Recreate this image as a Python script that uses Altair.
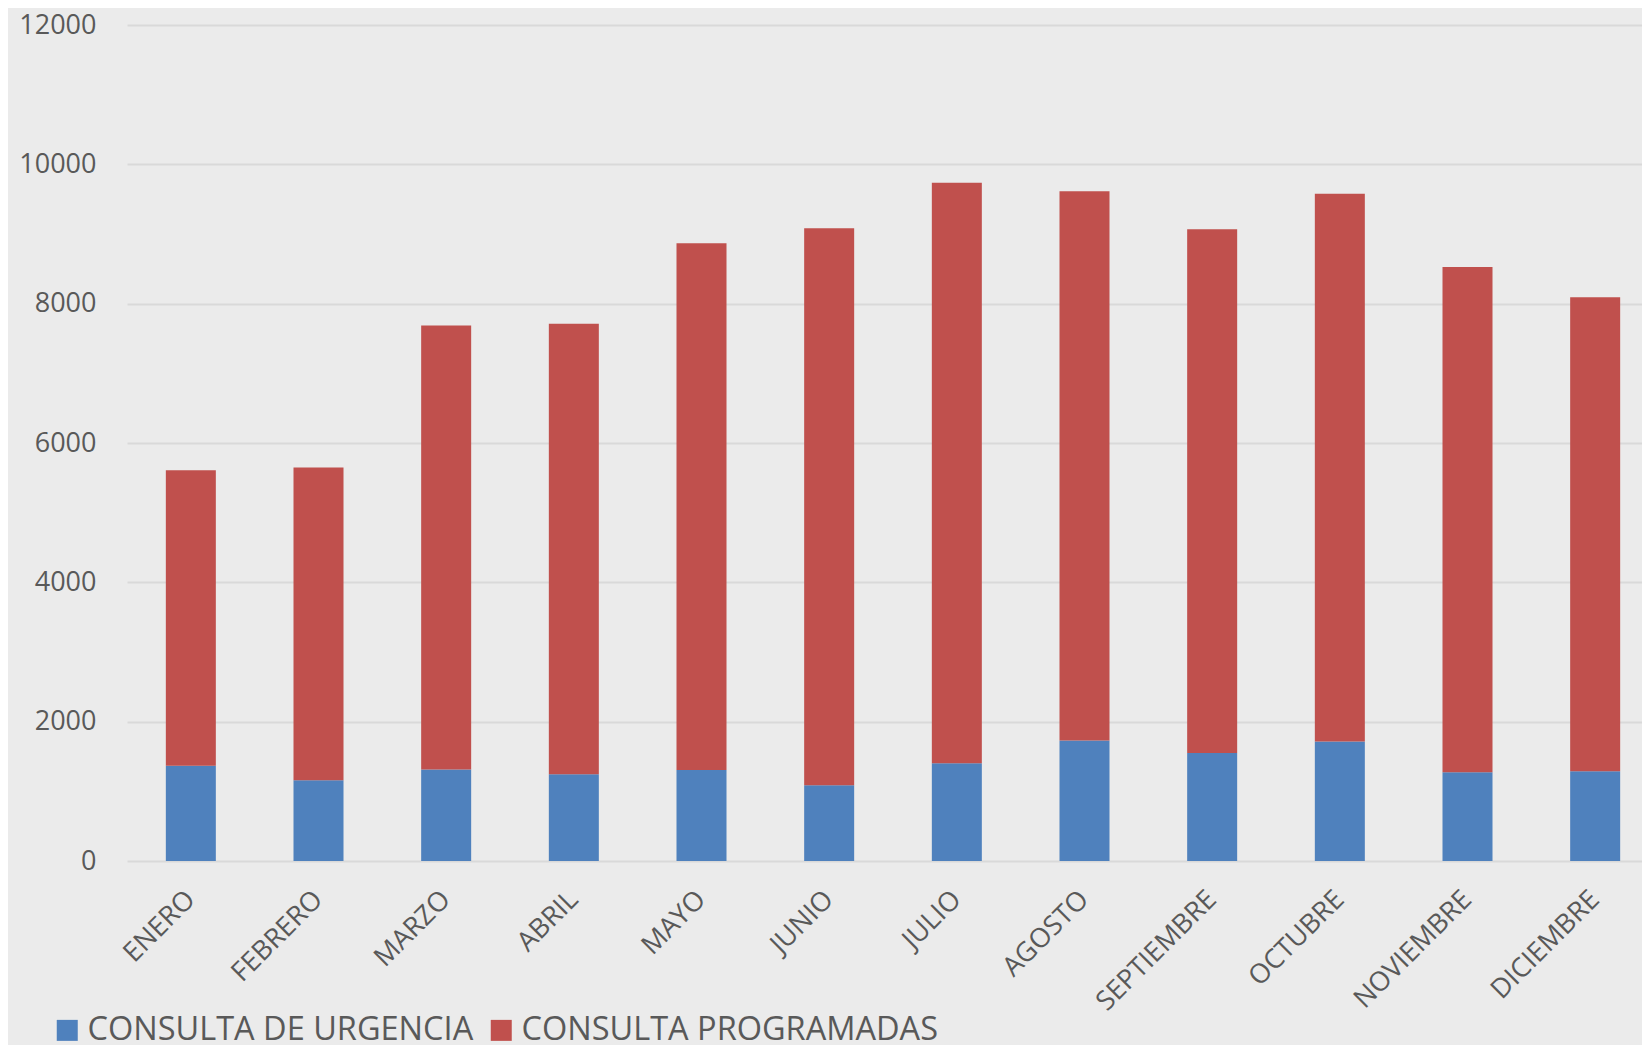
import altair as alt
import pandas as pd

meses = ["ENERO", "FEBRERO", "MARZO", "ABRIL", "MAYO", "JUNIO", "JULIO",
         "AGOSTO", "SEPTIEMBRE", "OCTUBRE", "NOVIEMBRE", "DICIEMBRE"]
urgencia = [1369, 1158, 1312, 1244, 1306, 1087, 1402, 1728, 1550, 1714, 1273, 1287]
programadas = [4239, 4489, 6373, 6469, 7560, 7994, 8335, 7884, 7517, 7865, 7253, 6804]
series = ["CONSULTA DE URGENCIA", "CONSULTA PROGRAMADAS"]
colores = ["#4F81BD", "#C0504D"]
y_ticks = [0, 2000, 4000, 6000, 8000, 10000, 12000]

rows = []
for i, m in enumerate(meses):
    rows.append({"mes": m, "serie": series[0], "valor": urgencia[i], "ord": 0})
    rows.append({"mes": m, "serie": series[1], "valor": programadas[i], "ord": 1})
df = pd.DataFrame(rows)

FONT = "Open Sans"
TXT = "#595959"

chart = alt.Chart(df).mark_bar(size=50).encode(
    x=alt.X("mes:N", sort=meses, title=None,
            scale=alt.Scale(range=[1, 1533], paddingInner=0, paddingOuter=0),
            axis=alt.Axis(labelAngle=-45, labelAlign="right", labelBaseline="middle",
                          labelPadding=34, labelFontSize=27, labelFont=FONT,
                          labelColor=TXT, domain=False, ticks=False, grid=False,
                          labelOverlap=False)),
    y=alt.Y("valor:Q", stack="zero", title=None,
            scale=alt.Scale(domain=[0, 12000], nice=False),
            axis=alt.Axis(values=y_ticks, format="d", labelFontSize=27, labelFont=FONT,
                          labelColor=TXT, labelPadding=30, domain=False, ticks=False,
                          gridColor="#D9D9D9", gridWidth=2)),
    color=alt.Color("serie:N", sort=series,
                    scale=alt.Scale(domain=series, range=colores),
                    legend=alt.Legend(title=None, orient="none", direction="horizontal",
                                      legendX=-75, legendY=989, padding=0,
                                      symbolType="square", symbolSize=441,
                                      symbolStrokeWidth=0, labelFontSize=32.5,
                                      labelFont=FONT, labelColor=TXT, labelOffset=4,
                                      labelLimit=0, columnPadding=11, symbolOpacity=1)),
    order=alt.Order("ord:Q", sort="ascending"),
).properties(
    width=1516, height=836,
    autosize=alt.AutoSizeParams(type="none"),
    padding={"left": 118, "top": 17, "right": 0, "bottom": 184},
    background="#EBEBEB",
).configure_view(stroke=None, fill="#EBEBEB")

chart.save("out.html", embed_options={"renderer": "svg", "actions": False})
